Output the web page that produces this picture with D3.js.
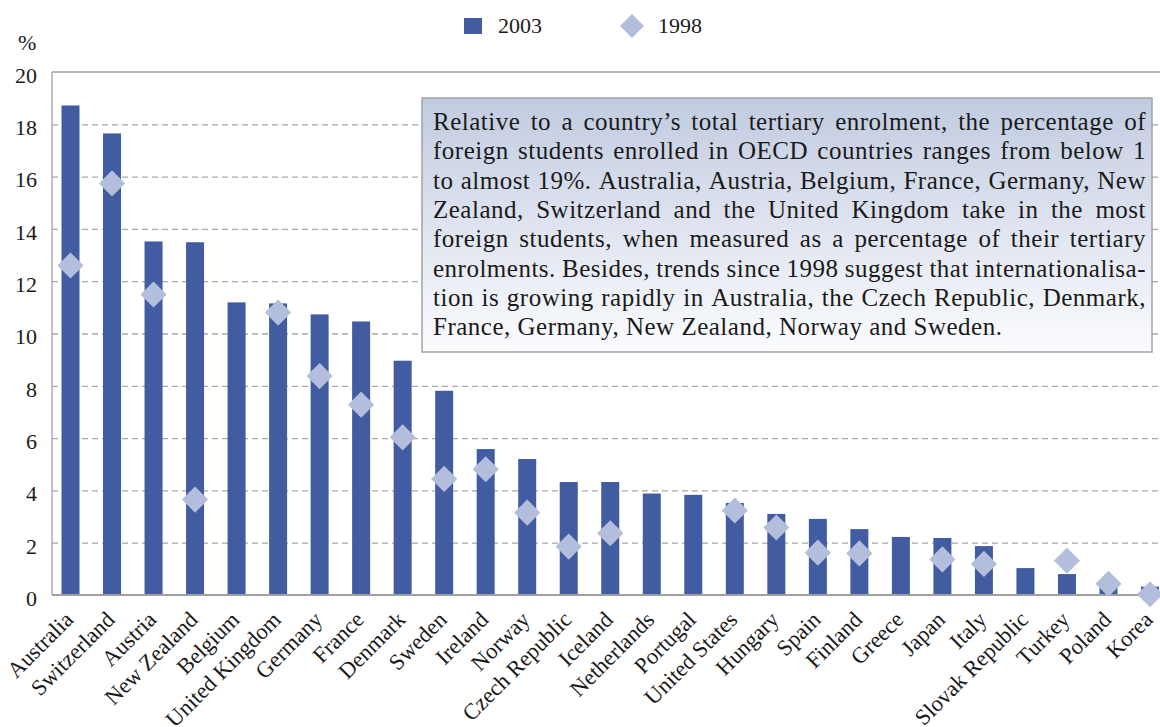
<!DOCTYPE html>
<html>
<head>
<meta charset="utf-8">
<script src="https://cdn.jsdelivr.net/npm/d3@7"></script>
<style>
  html, body { margin: 0; padding: 0; background: #ffffff; }
  svg { display: block; }
  text { font-family: "Liberation Serif", "DejaVu Serif", serif; fill: #1a1a1a; }
</style>
</head>
<body>
<svg id="chart" width="1160" height="727"></svg>
<script>
const countries = ["Australia","Switzerland","Austria","New Zealand","Belgium","United Kingdom","Germany","France","Denmark","Sweden","Ireland","Norway","Czech Republic","Iceland","Netherlands","Portugal","United States","Hungary","Spain","Finland","Greece","Japan","Italy","Slovak Republic","Turkey","Poland","Korea"];
const values2003 = [18.72,17.65,13.52,13.49,11.19,11.15,10.73,10.46,8.96,7.81,5.58,5.20,4.32,4.32,3.88,3.83,3.52,3.10,2.91,2.52,2.22,2.18,1.87,1.03,0.80,0.38,0.32];
const values1998 = [12.6,15.74,11.49,3.65,null,10.8,8.37,7.28,6.03,4.44,4.81,3.15,1.85,2.36,null,null,3.23,2.58,1.62,1.59,null,1.36,1.19,null,1.31,0.43,0.03];
const yTicks = [0,2,4,6,8,10,12,14,16,18,20];
const seriesNames = ["2003","1998"];
const yUnit = "%";
const noteLines = [
  "Relative to a country\u2019s total tertiary enrolment, the percentage of",
  "foreign students enrolled in OECD countries ranges from below 1",
  "to almost 19%. Australia, Austria, Belgium, France, Germany, New",
  "Zealand, Switzerland and the United Kingdom take in the most",
  "foreign students, when measured as a percentage of their tertiary",
  "enrolments. Besides, trends since 1998 suggest that internationalisa-",
  "tion is growing rapidly in Australia, the Czech Republic, Denmark,",
  "France, Germany, New Zealand, Norway and Sweden."
];

const barColor = "#425ca1";
const diamondColor = "#b2bedb";
const gridColor = "#a8a8a8";

const svg = d3.select("#chart");
const plotLeft = 52, plotTop = 72, plotBottom = 595, plotRight = 1160;

const x = d3.scalePoint().domain(countries).range([70.5, 1150]);
const y = d3.scaleLinear().domain([0, 20]).range([plotBottom, plotTop]);

// gridlines (dashed)
const grid = svg.append("g").attr("transform", `translate(${plotLeft},0)`)
  .call(d3.axisLeft(y).tickValues(yTicks.filter(t => t > 0 && t < 20)).tickSize(-(plotRight - plotLeft)).tickFormat(""));
grid.select(".domain").remove();
grid.selectAll(".tick line").attr("stroke", gridColor).attr("stroke-width", 1.3).attr("stroke-dasharray", "6,4");

// frame: top and left
svg.append("line").attr("x1", plotLeft).attr("x2", plotRight).attr("y1", y(20)).attr("y2", y(20))
  .attr("stroke", "#a0a0a0").attr("stroke-width", 1.3);
svg.append("line").attr("x1", plotLeft).attr("x2", plotLeft).attr("y1", y(20)).attr("y2", y(0))
  .attr("stroke", "#a0a0a0").attr("stroke-width", 1.3);

// y tick labels
const yAxis = svg.append("g").attr("transform", `translate(${plotLeft},0)`)
  .call(d3.axisLeft(y).tickValues(yTicks).tickSize(0).tickPadding(15).tickFormat(d3.format("d")));
yAxis.select(".domain").remove();
yAxis.attr("font-family", null).attr("font-size", null);
yAxis.selectAll(".tick text")
  .attr("font-size", 22).attr("fill", "#1a1a1a")
  .attr("dy", "0.47em");

svg.append("text").attr("x", 18).attr("y", 50).attr("font-size", 22).text(yUnit);

// note box
const boxX = 422, boxY = 98, boxW = 730, boxH = 254;
const defs = svg.append("defs");
const grad = defs.append("linearGradient").attr("id", "boxGrad").attr("x1", 0).attr("x2", 0).attr("y1", 0).attr("y2", 1);
grad.append("stop").attr("offset", "0%").attr("stop-color", "#c1cbe0");
grad.append("stop").attr("offset", "100%").attr("stop-color", "#fbfcfe");

// bars
svg.append("g").selectAll("rect").data(countries).join("rect")
  .attr("x", d => x(d) - 9)
  .attr("width", 18)
  .attr("y", (d, i) => y(values2003[i]))
  .attr("height", (d, i) => y(0) - y(values2003[i]))
  .attr("fill", barColor);

svg.append("rect").attr("x", boxX).attr("y", boxY).attr("width", boxW).attr("height", boxH)
  .attr("fill", "url(#boxGrad)").attr("stroke", "#a3a3a3").attr("stroke-width", 1.5);

// justified note text
const textLeft = 433, textRight = 1146, textW = textRight - textLeft;
const lineH = 29.3, firstBase = 130;
const noteG = svg.append("g");
const noteSize = 25;
noteLines.forEach((line, li) => {
  const words = line.split(" ");
  const yy = firstBase + li * lineH;
  const nodes = words.map(w => noteG.append("text").attr("font-size", noteSize)
    .attr("letter-spacing", "0.5px").attr("fill", "#2a2a2a").attr("y", yy).text(w));
  const widths = nodes.map(n => n.node().getComputedTextLength());
  const total = d3.sum(widths);
  let gap;
  if (li < noteLines.length - 1) gap = (textW - total) / (words.length - 1);
  else gap = noteSize * 0.27;
  let cx = textLeft;
  nodes.forEach((n, k) => { n.attr("x", cx); cx += widths[k] + gap; });
});

// bottom axis line
svg.append("line").attr("x1", plotLeft).attr("x2", plotRight).attr("y1", y(0)).attr("y2", y(0))
  .attr("stroke", "#a0a0a0").attr("stroke-width", 2);

// diamonds
const diamond = d3.symbol().type(d3.symbolSquare).size(18.5 * 18.5);
svg.append("g").selectAll("path").data(countries.filter((c, i) => values1998[i] != null)).join("path")
  .attr("d", diamond)
  .attr("transform", d => `translate(${x(d)},${y(values1998[countries.indexOf(d)])}) rotate(45)`)
  .attr("fill", diamondColor);

// x labels
svg.append("g").selectAll("text").data(countries).join("text")
  .attr("transform", d => `translate(${x(d) + 4},${y(0) + 26}) rotate(-45)`)
  .attr("text-anchor", "end")
  .attr("font-size", 22.5)
  .text(d => d);

// legend
const lg = svg.append("g");
lg.append("rect").attr("x", 464).attr("y", 18).attr("width", 18).attr("height", 16).attr("fill", barColor);
lg.append("text").attr("x", 498).attr("y", 33).attr("font-size", 22).text(seriesNames[0]);
lg.append("path").attr("d", d3.symbol().type(d3.symbolSquare).size(17 * 17))
  .attr("transform", "translate(632,26) rotate(45)").attr("fill", diamondColor);
lg.append("text").attr("x", 658).attr("y", 33).attr("font-size", 22).text(seriesNames[1]);
</script>
</body>
</html>
